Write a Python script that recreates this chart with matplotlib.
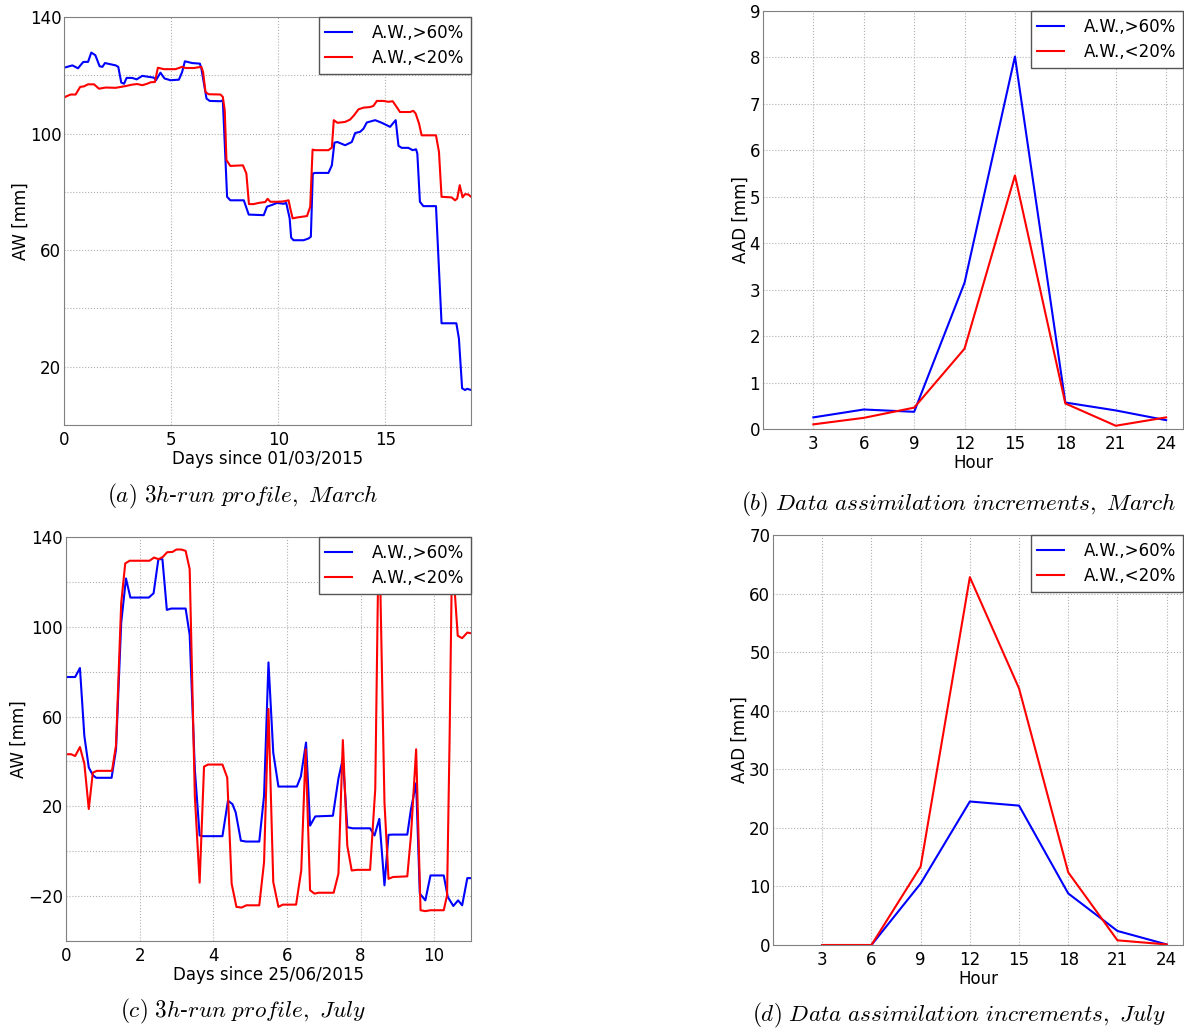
import numpy as np
import matplotlib
matplotlib.use("Agg")
import matplotlib.pyplot as plt

plt.rcParams['font.family'] = 'DejaVu Sans'
plt.rcParams['font.size'] = 12
plt.rcParams['mathtext.fontset'] = 'cm'

labels = ['A.W.,>60%', 'A.W.,<20%']

# (a) March, 3h-run profile
mar_days_hi = [0, 0.39, 0.65, 0.9, 1.12, 1.27, 1.46, 1.66, 1.79, 1.91, 2.41, 2.53, 2.67, 2.8, 2.92,
               3.18, 3.39, 3.65, 4.19, 4.29, 4.5, 4.69, 4.97, 5.36, 5.51, 5.64, 5.98, 6.34, 6.41,
               6.65, 6.8, 7.3, 7.41, 7.48, 7.61, 7.76, 8.39, 8.62, 9.32, 9.47, 9.7, 9.94, 10.25,
               10.37, 10.53, 10.6, 10.71, 11.18, 11.41, 11.52, 11.61, 11.72, 12.34, 12.5, 12.62,
               12.76, 13.12, 13.43, 13.59, 13.82, 13.98, 14.13, 14.52, 14.83, 15.22, 15.34, 15.48,
               15.61, 15.76, 16.07, 16.27, 16.43, 16.49, 16.61, 16.77, 17.36, 17.62, 18.31,
               18.43, 18.58, 18.71, 18.82, 19.0]
mar_aw_hi = [122.6, 123.4, 122.4, 124.6, 124.6, 127.8, 126.9, 123.1, 122.9, 124.2, 123.4, 122.9,
             117.5, 117.1, 119.1, 119.1, 118.6, 119.8, 119.2, 118.3, 120.9, 118.9, 118.3, 118.5,
             121.1, 124.8, 124.2, 124.0, 122.3, 112.0, 111.2, 111.1, 111.4, 100.0, 78.3, 77.1,
             77.1, 72.2, 72.0, 74.9, 75.5, 76.2, 75.9, 76.2, 70.9, 64.3, 63.4, 63.4, 64.0, 64.6,
             86.3, 86.5, 86.5, 89.1, 96.9, 97.1, 96.0, 97.1, 100.2, 100.6, 101.7, 103.8, 104.6,
             103.7, 102.3, 103.4, 104.6, 95.8, 95.1, 95.1, 94.3, 94.6, 93.1, 76.6, 75.1, 75.1,
             34.9, 34.9, 29.7, 12.6, 12.0, 12.4, 12.0]
mar_days_lo = [0, 0.11, 0.31, 0.54, 0.75, 0.93, 1.12, 1.4, 1.63, 1.94, 2.41, 2.64, 2.87, 3.18,
               3.42, 3.65, 3.88, 4.04, 4.24, 4.38, 4.66, 5.2, 5.51, 5.67, 6.06, 6.41, 6.49, 6.6,
               6.75, 7.3, 7.41, 7.5, 7.58, 7.76, 8.35, 8.51, 8.63, 8.85, 9.08, 9.39, 9.5, 9.63,
               9.94, 10.22, 10.48, 10.56, 10.67, 10.87, 11.34, 11.49, 11.6, 11.72, 12.34, 12.5,
               12.59, 12.76, 13.12, 13.35, 13.54, 13.74, 13.98, 14.29, 14.44, 14.6, 14.91, 15.14,
               15.34, 15.5, 15.68, 16.15, 16.3, 16.41, 16.57, 16.69, 17.36, 17.5, 17.62, 18.09,
               18.25, 18.35, 18.47, 18.6, 18.71, 18.87, 19.0]
mar_aw_lo = [112.3, 112.8, 113.4, 113.4, 116.0, 116.2, 116.9, 116.9, 115.4, 115.8, 115.7, 116.0,
             116.3, 116.8, 117.0, 116.6, 117.1, 117.6, 117.7, 122.6, 122.1, 122.1, 122.9, 122.5,
             122.5, 122.9, 121.1, 114.3, 113.5, 113.4, 112.6, 108.0, 90.9, 88.9, 89.1, 86.3,
             75.8, 75.8, 76.2, 76.5, 77.6, 76.6, 76.6, 76.7, 77.1, 74.3, 70.9, 71.2, 71.7, 74.9,
             94.5, 94.3, 94.3, 95.2, 104.6, 103.7, 104.0, 104.8, 106.3, 108.3, 108.9, 109.1,
             109.5, 111.2, 111.2, 110.9, 111.1, 109.4, 107.4, 107.4, 107.8, 106.9, 103.4, 99.4,
             99.4, 93.7, 78.3, 78.1, 77.1, 77.7, 82.3, 78.1, 79.2, 79.1, 78.3]

# (c) July, 3h-run profile
jul_days_hi = [0, 0.25, 0.38, 0.5, 0.62, 0.73, 0.82, 1.24, 1.36, 1.5, 1.63, 1.75, 2.25, 2.38,
               2.51, 2.62, 2.74, 2.86, 3.25, 3.36, 3.5, 3.63, 3.72, 4.25, 4.4, 4.52, 4.61, 4.75,
               4.89, 5.25, 5.38, 5.5, 5.63, 5.77, 6.27, 6.38, 6.52, 6.63, 6.77, 7.25, 7.4, 7.52,
               7.64, 7.79, 8.26, 8.38, 8.51, 8.65, 8.76, 8.88, 9.27, 9.37, 9.51, 9.61, 9.76, 9.9,
               10.26, 10.37, 10.52, 10.65, 10.76, 10.9, 11.0]
jul_aw_hi = [77.6, 77.6, 81.6, 51.3, 37.3, 33.9, 32.7, 32.7, 45.4, 101.6, 121.5, 113.0, 113.0,
             114.9, 130.1, 130.1, 107.5, 108.1, 108.1, 96.4, 36.5, 7.0, 6.7, 6.7, 22.5, 21.0,
             17.3, 4.7, 4.3, 4.3, 24.7, 84.1, 43.9, 28.8, 28.8, 33.3, 48.4, 11.4, 15.5, 15.8,
             32.4, 41.3, 10.7, 10.2, 10.2, 7.0, 14.4, -15.2, 7.3, 7.4, 7.4, 18.8, 30.3, -18.9,
             -21.9, -10.8, -10.8, -20.4, -24.4, -21.9, -24.1, -12.0, -12.0]
jul_days_lo = [0, 0.14, 0.25, 0.38, 0.5, 0.62, 0.73, 0.84, 1.25, 1.36, 1.5, 1.61, 1.73, 2.27,
               2.39, 2.52, 2.63, 2.75, 2.89, 3.0, 3.13, 3.25, 3.36, 3.5, 3.63, 3.75, 3.86, 4.25,
               4.38, 4.5, 4.63, 4.77, 4.9, 5.25, 5.38, 5.5, 5.63, 5.77, 5.89, 6.25, 6.39, 6.51,
               6.63, 6.75, 6.86, 7.27, 7.4, 7.52, 7.64, 7.76, 7.9, 8.26, 8.4, 8.5, 8.65, 8.76,
               8.88, 9.27, 9.37, 9.51, 9.63, 9.76, 9.9, 10.26, 10.35, 10.42, 10.5, 10.55, 10.64,
               10.76, 10.9, 11.0]
jul_aw_lo = [43.2, 43.2, 42.4, 46.4, 39.0, 18.8, 35.0, 35.8, 35.8, 47.2, 110.4, 128.2, 129.4,
             129.4, 130.8, 130.1, 131.1, 133.2, 133.3, 134.4, 134.4, 133.8, 125.7, 24.7, -14.0,
             37.7, 38.6, 38.6, 32.8, -14.5, -24.8, -25.1, -24.1, -24.1, -4.9, 63.4, -13.7,
             -24.8, -23.8, -23.8, -8.6, 45.4, -17.4, -18.9, -18.5, -18.5, -10.0, 49.5, 2.5,
             -8.6, -8.3, -8.3, 27.7, 150.0, 21.7, -12.3, -11.5, -11.2, 7.0, 45.4, -26.3, -26.7,
             -26.3, -26.3, -19.6, 51.3, 150.0, 117.8, 96.0, 94.9, 97.4, 97.1]

# (b), (d) data assimilation increments
hours = [3, 6, 9, 12, 15, 18, 21, 24]
mar_aad_hi = [0.25, 0.42, 0.37, 3.15, 8.02, 0.57, 0.40, 0.19]
mar_aad_lo = [0.10, 0.24, 0.46, 1.73, 5.46, 0.55, 0.07, 0.25]
jul_aad_hi = [0.0, 0.0, 10.5, 24.5, 23.8, 8.8, 2.4, 0.1]
jul_aad_lo = [0.0, 0.0, 13.4, 62.8, 43.8, 12.4, 0.8, 0.1]


def style(ax, xlabel, ylabel):
    ax.grid(True, color='#b0b0b0', linestyle=':', linewidth=0.8)
    ax.set_axisbelow(True)
    for s in ax.spines.values():
        s.set_color('#808080')
    ax.tick_params(axis='y', length=0, labelsize=12, pad=2)
    ax.tick_params(axis='x', length=0, labelsize=12, pad=4)
    ax.set_xlabel(xlabel, fontsize=12, labelpad=1)
    ax.set_ylabel(ylabel, fontsize=12, labelpad=0)
    ax.legend(loc='upper right', borderaxespad=0, fancybox=False, framealpha=1,
              edgecolor='#555555', handlelength=1.6, handletextpad=1.2,
              labelspacing=0.45, fontsize=12, borderpad=0.4)


def caption(fig, x, y, lead, rest):
    txt = r'$\mathit{' + lead.replace(' ', r'\ ') + '}$'
    if rest is not None:
        txt += '-' + r'$\mathit{' + rest.replace(' ', r'\ ') + '}$'
    fig.text(x, y, txt, ha='center', va='center', fontsize=16.7, family='serif')


fig = plt.figure(figsize=(11.84, 10.31), dpi=100)

ax1 = fig.add_axes([0.0541, 0.5878, 0.3438, 0.3957])
ax1.plot(mar_days_hi, mar_aw_hi, color='#0000ff', lw=1.5, label=labels[0])
ax1.plot(mar_days_lo, mar_aw_lo, color='#ff0000', lw=1.5, label=labels[1])
ax1.set_xlim(0, 19)
ax1.set_ylim(0, 140)
ax1.set_xticks([0, 5, 10, 15])
ax1.set_yticks(range(0, 141, 20))
ax1.set_yticklabels(['', '20', '', '60', '', '100', '', '140'])
style(ax1, 'Days since 01/03/2015', 'AW [mm]')

ax2 = fig.add_axes([0.6444, 0.5839, 0.3547, 0.4054])
ax2.plot(hours, mar_aad_hi, color='#0000ff', lw=1.5, label=labels[0])
ax2.plot(hours, mar_aad_lo, color='#ff0000', lw=1.5, label=labels[1])
ax2.set_xlim(0, 25)
ax2.set_ylim(0, 9)
ax2.set_xticks(hours)
ax2.set_yticks(range(0, 10))
style(ax2, 'Hour', 'AAD [mm]')

ax3 = fig.add_axes([0.0557, 0.0873, 0.3421, 0.3919])
ax3.plot(jul_days_hi, jul_aw_hi, color='#0000ff', lw=1.5, label=labels[0])
ax3.plot(jul_days_lo, jul_aw_lo, color='#ff0000', lw=1.5, label=labels[1])
ax3.set_xlim(0, 11)
ax3.set_ylim(-40, 140)
ax3.set_xticks([0, 2, 4, 6, 8, 10])
ax3.set_yticks(range(-40, 141, 20))
ax3.set_yticklabels(['', '\u221220', '', '20', '', '60', '', '100', '', '140'])
style(ax3, 'Days since 25/06/2015', 'AW [mm]')

ax4 = fig.add_axes([0.6529, 0.0834, 0.3463, 0.3977])
ax4.plot(hours, jul_aad_hi, color='#0000ff', lw=1.5, label=labels[0])
ax4.plot(hours, jul_aad_lo, color='#ff0000', lw=1.5, label=labels[1])
ax4.set_xlim(0, 25)
ax4.set_ylim(0, 70)
ax4.set_xticks(hours)
ax4.set_yticks(range(0, 71, 10))
style(ax4, 'Hour', 'AAD [mm]')

caption(fig, 0.2052, 0.019, '(c) 3h', 'run profile, July')
caption(fig, 0.2052, 0.518, '(a) 3h', 'run profile, March')
caption(fig, 0.810, 0.511, '(b) Data assimilation increments, March', None)
caption(fig, 0.810, 0.0150, '(d) Data assimilation increments, July', None)

fig.savefig('out.png', dpi=100)
